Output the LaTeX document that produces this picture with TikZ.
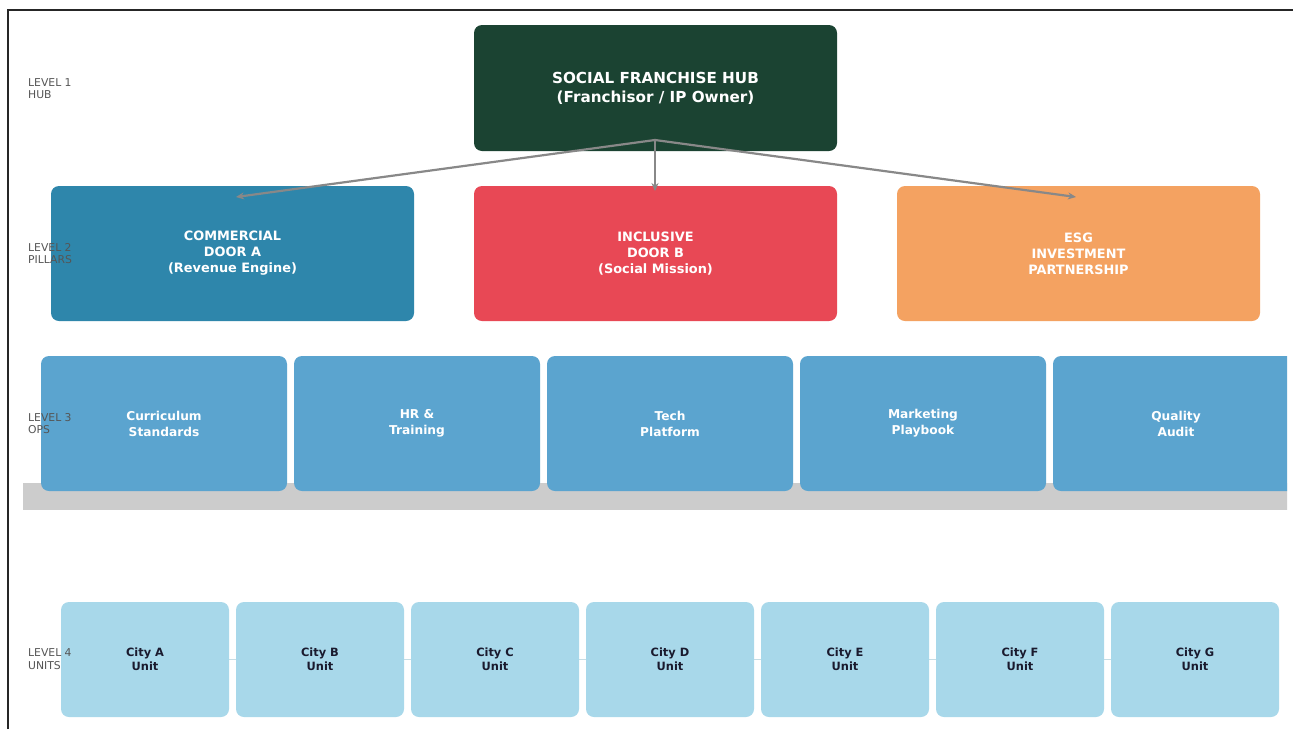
\documentclass[tikz,border=0pt]{standalone}
\usepackage{fontspec}
\setmainfont{DejaVu Sans}
\usetikzlibrary{arrows.meta}
\definecolor{hubc}{HTML}{1B4332}
\definecolor{pa}{HTML}{2E86AB}
\definecolor{pb}{HTML}{E84855}
\definecolor{pc}{HTML}{F4A261}
\definecolor{opsc}{HTML}{5BA4CF}
\definecolor{unitc}{HTML}{A8D8EA}
\definecolor{unittxt}{HTML}{1A1A2E}
\definecolor{bandc}{HTML}{CCCCCC}
\definecolor{lvlc}{HTML}{555555}
\definecolor{arrc}{HTML}{888888}
\tikzset{
  box/.style={rounded corners=8pt, inner sep=0pt, align=center, font=\bfseries},
  hubbox/.style={box, fill=hubc, text=white, minimum width=363pt, minimum height=126pt, font=\fontsize{15.2}{19}\selectfont\bfseries},
  pillar/.style={box, text=white, minimum width=363pt, minimum height=135pt, font=\fontsize{12.9}{16}\selectfont\bfseries},
  opsbox/.style={box, fill=opsc, text=white, minimum width=246pt, minimum height=135pt, font=\fontsize{12.2}{16}\selectfont\bfseries},
  unitbox/.style={box, fill=unitc, text=unittxt, minimum width=168pt, minimum height=115pt, font=\fontsize{11.4}{14}\selectfont\bfseries},
  lvl/.style={anchor=west, align=left, text=lvlc, inner sep=0pt, font=\fontsize{10.8}{12.5}\selectfont},
  conn/.style={draw=arrc, line width=2.2pt, -{Stealth[length=8pt,width=7pt]}},
}
\begin{document}
\begin{tikzpicture}[x=1pt,y=-1pt]
\useasboundingbox (0,0) rectangle (1293,729);
\fill[white] (0,0) rectangle (1293,729);
% frame
\draw[line width=1.2pt, black!85] (8,729) coordinate (fb) -- (8,10) coordinate (fc) -- (1293,10) coordinate (fr);
% level 4 connector line
\coordinate (ul) at (145,659.5);
\coordinate (ur) at (1195,659.5);
\draw[unitc!80!gray!60, line width=1pt] (ul) -- (ur);
% band
\begin{scope}
\clip (0,0) rectangle (1287,729);
\fill[bandc] (23,483) rectangle (1299,510);
% ops
\node[opsbox] (o1) at (164,423.5) {Curriculum\\Standards};
\node[opsbox] (o2) at (417,423.5) {HR \&\\Training};
\node[opsbox] (o3) at (670,423.5) {Tech\\Platform};
\node[opsbox] (o4) at (923,423.5) {Marketing\\Playbook};
\node[opsbox] (o5) at (1176,423.5) {Quality\\Audit};
\end{scope}
% hub
\node[hubbox] (hub) at (655.5,88) {SOCIAL FRANCHISE HUB\\(Franchisor / IP Owner)};
% pillars
\node[pillar, fill=pa] (pA) at (232.5,253.5) {COMMERCIAL\\DOOR A\\(Revenue Engine)};
\node[pillar, fill=pb] (pB) at (655.5,253.5) {INCLUSIVE\\DOOR B\\(Social Mission)};
\node[pillar, fill=pc] (pC) at (1078.5,253.5) {ESG\\INVESTMENT\\PARTNERSHIP};
% units
\node[unitbox] (u1) at (145,659.5) {City A\\Unit};
\node[unitbox] (u2) at (320,659.5) {City B\\Unit};
\node[unitbox] (u3) at (495,659.5) {City C\\Unit};
\node[unitbox] (u4) at (670,659.5) {City D\\Unit};
\node[unitbox] (u5) at (845,659.5) {City E\\Unit};
\node[unitbox] (u6) at (1020,659.5) {City F\\Unit};
\node[unitbox] (u7) at (1195,659.5) {City G\\Unit};
% arrows
\coordinate (hs) at (655,140);
\coordinate (tA) at (236,197);
\coordinate (tB) at (655,191);
\coordinate (tC) at (1076,197);
\draw[conn] (hs) -- (tA);
\draw[conn] (hs) -- (tB);
\draw[conn] (hs) -- (tC);
% level labels
\node[lvl] (l1) at (28,88.5) {LEVEL 1\\HUB};
\node[lvl] (l2) at (28,253.5) {LEVEL 2\\PILLARS};
\node[lvl] (l3) at (28,423.5) {LEVEL 3\\OPS};
\node[lvl] (l4) at (28,659) {LEVEL 4\\UNITS};
\end{tikzpicture}
\end{document}
